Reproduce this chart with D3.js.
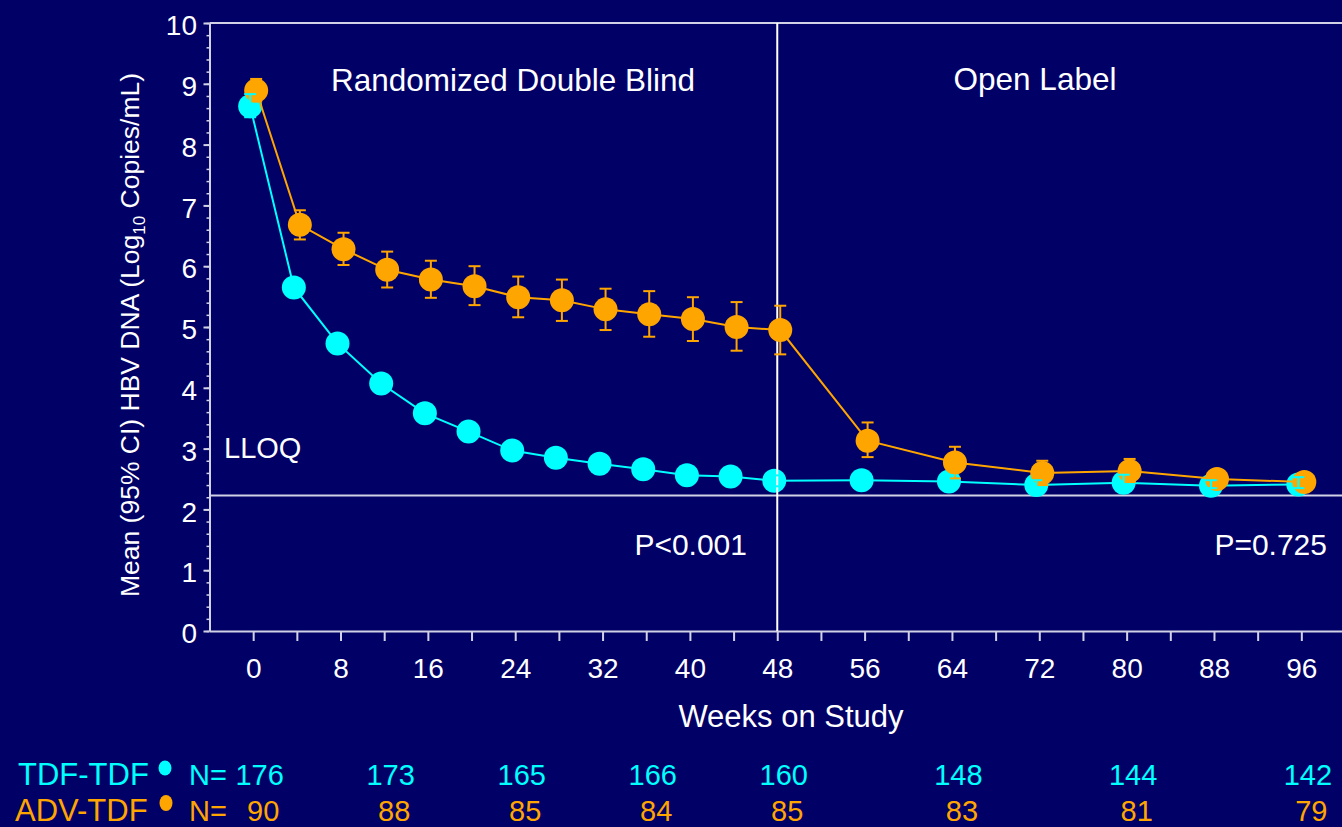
<!DOCTYPE html>
<html><head><meta charset="utf-8">
<script src="https://cdn.jsdelivr.net/npm/d3@7"></script>
<style>
html,body{margin:0;padding:0;background:#000066;}
svg{display:block;}
text{font-family:"Liberation Sans",Arial,sans-serif;}
</style></head>
<body>
<svg id="chart" width="1342" height="827"></svg>
<script>
// ---- data ----
const weeks   = [0,4,8,12,16,20,24,28,32,36,40,44,48,56,64,72,80,88,96];
const tdfMean = [8.63,5.65,4.73,4.07,3.58,3.28,2.97,2.85,2.75,2.66,2.56,2.54,2.47,2.48,2.46,2.40,2.44,2.39,2.41];
const tdfLo   = [8.45,5.52,4.60,3.95,3.47,3.17,2.87,2.75,2.65,2.57,2.47,2.45,2.38,2.38,2.36,2.32,2.36,2.35,2.35];
const tdfHi   = [8.83,5.78,4.86,4.19,3.69,3.39,3.07,2.95,2.85,2.75,2.65,2.63,2.56,2.58,2.56,2.48,2.57,2.48,2.53];
const advMean = [8.89,6.68,6.28,5.94,5.78,5.67,5.49,5.44,5.29,5.21,5.13,5.00,4.95,3.13,2.77,2.60,2.63,2.50,2.45];
const advLo   = [8.71,6.44,6.02,5.65,5.48,5.36,5.16,5.10,4.95,4.84,4.77,4.61,4.55,2.86,2.51,2.40,2.45,2.38,2.35];
const advHi   = [9.08,6.92,6.55,6.24,6.09,6.00,5.83,5.78,5.63,5.59,5.49,5.41,5.35,3.43,3.03,2.80,2.83,2.62,2.55];
const nWeeks  = [0,12,24,36,48,64,80,96];
const tdfN    = [176,173,165,166,160,148,144,142];
const advN    = [90,88,85,84,85,83,81,79];
const xTickValues  = d3.range(0,97,4);
const xTickLabels  = [0,8,16,24,32,40,48,56,64,72,80,88,96];
const yTickValues  = [0,1,2,3,4,5,6,7,8,9,10];
const yMinorValues = d3.range(0,10.001,0.2);
const lloq = 2.23;
const splitWeek = 48;
const seriesNames = ["TDF-TDF","ADV-TDF"];
const phaseLabels = ["Randomized Double Blind","Open Label"];
const pLabels = ["P<0.001","P=0.725"];
const yTitle = ["Mean (95% CI) HBV DNA (Log", "10", " Copies/mL)"];
const xTitle = "Weeks on Study";

// ---- styles ----
const BG = "#000066", CYAN = "#00FFFF", ORANGE = "#FFA500", AXIS = "#d2d2e6";

const svg = d3.select("#chart");
svg.append("rect").attr("width",1342).attr("height",827).attr("fill",BG);

const x = d3.scaleLinear().domain([-4,100]).range([209.5,1345]);
const y = d3.scaleLinear().domain([0,10]).range([631,23]);

// top border
svg.append("line").attr("x1",x(-4)).attr("x2",1342).attr("y1",y(10)).attr("y2",y(10))
  .attr("stroke",AXIS).attr("stroke-width",2);

// LLOQ line
svg.append("line").attr("x1",x(-4)).attr("x2",1342).attr("y1",y(lloq)).attr("y2",y(lloq))
  .attr("stroke",AXIS).attr("stroke-width",2);

// Y axis minor
const yMinor = svg.append("g").attr("transform",`translate(${x(-4)},0)`)
  .call(d3.axisLeft(y).tickValues(yMinorValues).tickSize(3).tickFormat(""));
yMinor.selectAll("line").attr("stroke",AXIS).attr("stroke-width",1.5);
yMinor.select(".domain").remove();

// Y axis major
const yAx = svg.append("g").attr("transform",`translate(${x(-4)},0)`)
  .call(d3.axisLeft(y).tickValues(yTickValues).tickSize(6).tickSizeOuter(0).tickPadding(6.5));
yAx.select(".domain").attr("stroke",AXIS).attr("stroke-width",2);
yAx.selectAll("line").attr("stroke",AXIS).attr("stroke-width",2);
yAx.selectAll("text").attr("fill","#fff").attr("font-size",28).attr("dy","0.42em")
  .attr("font-family","Liberation Sans, Arial, sans-serif");

// X axis
const xAx = svg.append("g").attr("transform",`translate(0,${y(0)})`)
  .call(d3.axisBottom(x).tickValues(xTickValues).tickSize(10).tickSizeOuter(0).tickPadding(17)
    .tickFormat(d => xTickLabels.includes(d) ? d : ""));
xAx.select(".domain").attr("stroke",AXIS).attr("stroke-width",2);
xAx.selectAll("line").attr("stroke",AXIS).attr("stroke-width",2);
xAx.selectAll("text").attr("fill","#fff").attr("font-size",28)
  .attr("font-family","Liberation Sans, Arial, sans-serif");

// Axis titles
svg.append("text").attr("x",791).attr("y",727).attr("text-anchor","middle")
  .attr("fill","#fff").attr("font-size",31).text(xTitle);
const yt = svg.append("text").attr("transform","translate(139,335) rotate(-90)")
  .attr("text-anchor","middle").attr("fill","#fff").attr("font-size",26.5);
yt.append("tspan").text(yTitle[0]);
yt.append("tspan").attr("font-size",17).attr("dy",6).text(yTitle[1]);
yt.append("tspan").attr("dy",-6).text(yTitle[2]);

// Phase labels & P values
svg.append("text").attr("x",513).attr("y",91).attr("text-anchor","middle").attr("fill","#fff")
  .attr("font-size",31.5).text(phaseLabels[0]);
svg.append("text").attr("x",1035).attr("y",90).attr("text-anchor","middle").attr("fill","#fff")
  .attr("font-size",31.5).text(phaseLabels[1]);
svg.append("text").attr("x",747).attr("y",555).attr("text-anchor","end").attr("fill","#fff")
  .attr("font-size",30).text(pLabels[0]);
svg.append("text").attr("x",1327).attr("y",555).attr("text-anchor","end").attr("fill","#fff")
  .attr("font-size",30).text(pLabels[1]);
svg.append("text").attr("x",224).attr("y",458).attr("fill","#fff")
  .attr("font-size",29).text("LLOQ");

// ---- series ----
function drawSeries(mean, color, dx){
  const pts = weeks.map((w,i)=>({w, m:mean[i]}));
  svg.append("path").datum(pts)
    .attr("d", d3.line().x(d=>x(d.w)+dx).y(d=>y(d.m)))
    .attr("fill","none").attr("stroke",color).attr("stroke-width",2);
  svg.append("g").selectAll("circle").data(pts).join("circle")
    .attr("cx",d=>x(d.w)+dx).attr("cy",d=>y(d.m)).attr("r",12).attr("fill",color);
}
function drawErr(lo, hi, color, dx){
  const g = svg.append("g").attr("stroke",color).attr("stroke-width",2);
  weeks.forEach((w,i)=>{
    const cx = x(w)+dx;
    g.append("line").attr("x1",cx).attr("x2",cx).attr("y1",y(lo[i])).attr("y2",y(hi[i]));
    g.append("line").attr("x1",cx-6).attr("x2",cx+6).attr("y1",y(lo[i])).attr("y2",y(lo[i]));
    g.append("line").attr("x1",cx-6).attr("x2",cx+6).attr("y1",y(hi[i])).attr("y2",y(hi[i]));
  });
}

drawSeries(tdfMean, CYAN, -3);
// week-48 divider
svg.append("line").attr("x1",x(splitWeek)).attr("x2",x(splitWeek)).attr("y1",y(10)).attr("y2",y(0))
  .attr("stroke","#fff").attr("stroke-width",2);
drawErr(advLo, advHi, ORANGE, 3);
drawSeries(advMean, ORANGE, 3);
drawErr(tdfLo, tdfHi, CYAN, -3);

// ---- N table ----
svg.append("text").attr("x",18).attr("y",785).attr("fill",CYAN).attr("font-size",31).text(seriesNames[0]);
svg.append("text").attr("x",15).attr("y",821).attr("fill",ORANGE).attr("font-size",31).text(seriesNames[1]);
svg.append("ellipse").attr("cx",165).attr("cy",768).attr("rx",6.5).attr("ry",7.5).attr("fill",CYAN);
svg.append("ellipse").attr("cx",166).attr("cy",803).attr("rx",6.5).attr("ry",8).attr("fill",ORANGE);
svg.append("text").attr("x",189).attr("y",785).attr("fill",CYAN).attr("font-size",29).text("N=");
svg.append("text").attr("x",189).attr("y",821).attr("fill",ORANGE).attr("font-size",29).text("N=");
svg.append("g").selectAll("text").data(nWeeks.map((w,i)=>({w,n:tdfN[i]}))).join("text")
  .attr("x",d=>x(d.w)+6.5).attr("y",785).attr("text-anchor","middle").attr("fill",CYAN)
  .attr("font-size",29).text(d=>d.n);
svg.append("g").selectAll("text").data(nWeeks.map((w,i)=>({w,n:advN[i]}))).join("text")
  .attr("x",d=>x(d.w)+10).attr("y",821).attr("text-anchor","middle").attr("fill",ORANGE)
  .attr("font-size",29).text(d=>d.n);
</script>
</body></html>
